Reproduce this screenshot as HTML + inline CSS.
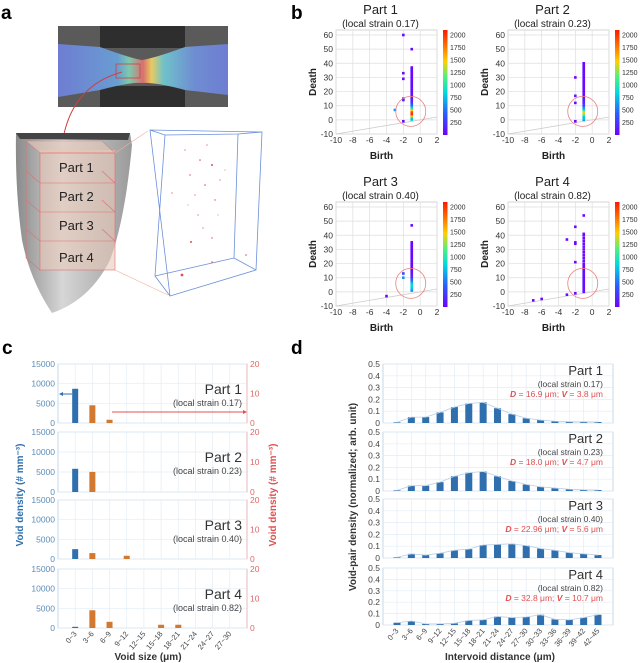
<!DOCTYPE html>
<html><head><meta charset="utf-8">
<style>
body{margin:0;background:#fff;}
svg{display:block;font-family:"Liberation Sans",Arial,sans-serif;}
</style></head>
<body>
<svg id="fig" width="640" height="663" viewBox="0 0 640 663" xmlns="http://www.w3.org/2000/svg">
<defs>
<linearGradient id="cmap" x1="0" y1="1" x2="0" y2="0">
<stop offset="0" stop-color="#7000ff"/><stop offset="0.2" stop-color="#2a5cff"/><stop offset="0.4" stop-color="#00d8e0"/><stop offset="0.55" stop-color="#50f080"/><stop offset="0.7" stop-color="#ffd000"/><stop offset="0.85" stop-color="#ff7000"/><stop offset="1" stop-color="#ff1800"/>
</linearGradient>
<linearGradient id="dic" x1="0" y1="0" x2="1" y2="0">
<stop offset="0" stop-color="#6f7fd8"/><stop offset="0.35" stop-color="#6aa0d8"/><stop offset="0.42" stop-color="#7ed0b0"/><stop offset="0.5" stop-color="#e07070"/><stop offset="0.55" stop-color="#f0d060"/><stop offset="0.62" stop-color="#70c8d0"/><stop offset="0.8" stop-color="#7090d8"/><stop offset="1" stop-color="#6f7fd8"/>
</linearGradient>
<linearGradient id="block" x1="0" y1="0" x2="1" y2="0">
<stop offset="0" stop-color="#8a8a8a"/><stop offset="0.4" stop-color="#d6d6d6"/><stop offset="1" stop-color="#9a9a9a"/>
</linearGradient>
</defs>

<!-- Panel a -->
<g>
<text x="1" y="19" font-size="19" font-weight="bold">a</text>
<g>
<rect x="58" y="26" width="170" height="81" fill="#5a5a5a"/>
<rect x="100" y="26" width="85" height="22" fill="#2e2e2e"/>
<rect x="100" y="86" width="85" height="21" fill="#2e2e2e"/>
<path d="M58 44 L100 47 Q130 58 142 60 Q155 58 185 47 L228 44 L228 95 L185 90 Q155 82 142 83 Q130 82 100 90 L58 97 Z" fill="url(#dic)" opacity="0.95"/>
<rect x="116" y="64" width="24" height="14" fill="none" stroke="#d04040" stroke-width="0.8"/>
<path d="M122 72 Q75 85 64 134" fill="none" stroke="#d04040" stroke-width="1"/>
</g>
<g>
<path d="M16 133 L130 133 L132 145 Q125 220 110 260 Q90 300 52 313 Q30 280 22 240 Q15 190 16 133 Z" fill="url(#block)"/>
<path d="M16 133 L130 133 L128 140 L20 139 Z" fill="#444"/>
<rect x="40" y="150" width="75" height="120" fill="#e8c8b8" opacity="0.6"/>
<path d="M26 141 L40 153 L115 153 L102 141 Z" fill="#e8c8b8" opacity="0.6" stroke="#e07070" stroke-width="0.6"/>
<g stroke="#e07070" stroke-width="0.6" fill="none">
<rect x="40" y="153" width="75" height="117"/>
<line x1="26" y1="141" x2="26" y2="258"/><line x1="26" y1="258" x2="40" y2="270"/>
<path d="M26 171 L40 183 L115 183 L102 171"/>
<path d="M26 200 L40 212 L115 212 L102 200"/>
<path d="M26 229 L40 241 L115 241 L102 229"/>
</g>
<text x="59" y="172" font-size="13" fill="#222">Part 1</text>
<text x="59" y="201" font-size="13" fill="#222">Part 2</text>
<text x="59" y="230" font-size="13" fill="#222">Part 3</text>
<text x="59" y="262" font-size="13" fill="#222">Part 4</text>
<line x1="115" y1="153" x2="148" y2="131" stroke="#f0b0a0" stroke-width="0.6"/>
<line x1="115" y1="270" x2="168" y2="295" stroke="#f0b0a0" stroke-width="0.6"/>
</g>
<g stroke="#6b8fd8" stroke-width="0.8" fill="none">
<path d="M150 130 L262 132 L256 270 L170 296 Z"/>
<path d="M150 130 L165 135 L238 134 L262 132"/>
<path d="M165 135 L155 276 L170 296"/>
<path d="M238 134 L234 258 L256 270"/>
<path d="M155 276 L234 258"/>
</g>
<g fill="#e05050">
<circle cx="200" cy="160" r="0.8"/><circle cx="212" cy="165" r="1"/><circle cx="190" cy="175" r="0.7"/><circle cx="205" cy="185" r="0.8"/><circle cx="195" cy="195" r="0.6"/><circle cx="215" cy="200" r="0.7"/><circle cx="185" cy="150" r="0.6"/><circle cx="207" cy="145" r="0.6"/><circle cx="220" cy="180" r="0.6"/><circle cx="191" cy="242" r="1"/><circle cx="212" cy="238" r="0.7"/><circle cx="182" cy="275" r="1.4"/><circle cx="212" cy="262" r="0.8"/><circle cx="246" cy="255" r="0.8"/><circle cx="172" cy="193" r="0.6"/><circle cx="198" cy="215" r="0.6"/><circle cx="225" cy="170" r="0.5"/><circle cx="203" cy="228" r="0.6"/><circle cx="188" cy="205" r="0.5"/><circle cx="218" cy="215" r="0.5"/>
</g>
</g>

<!-- Panel b -->
<g id="panelB">
<text x="291" y="19" font-size="19" font-weight="bold">b</text>
</g>
<!-- Panel c -->
<g id="panelC">
<text x="2" y="354" font-size="19" font-weight="bold">c</text>
</g>
<!-- Panel d -->
<g id="panelD">
<text x="291" y="354" font-size="19" font-weight="bold">d</text>
</g>
</svg>
<script>
// ---------- Panel b data ----------
var bParts = ['Part 1','Part 2','Part 3','Part 4'];
var bStrains = ['(local strain 0.17)','(local strain 0.23)','(local strain 0.40)','(local strain 0.82)'];
var bXTicks = [-10,-8,-6,-4,-2,0,2];
var bYTicks = [-10,0,10,20,30,40,50,60];
var bCbTicks = [250,500,750,1000,1250,1500,1750,2000];
// column at birth = -1: death values and counts
var p1ColDeath = [0,1,2,3,4,5,6,7,8,9,10,11,12,13,14,15,16,17,18,19,20,21,22,23,24,25,26,27,28,29,30,31,32,33,34,35,36,37,50];
var p1ColCount = [900,700,1000,1500,2000,2000,1900,1500,1100,800,600,400,300,200,150,120,100,100,80,80,60,60,60,50,50,50,50,40,40,40,40,40,40,40,40,40,40,40,30];
var p1ExBirth = [-2,-2,-2,-2,-2,-3,-2];
var p1ExDeath = [60,33,29,15,14,7,-1];
var p1ExCount = [30,30,30,200,150,600,30];
var p2ColDeath = [0,1,2,3,4,5,6,7,8,9,10,11,12,13,14,15,16,17,18,19,20,21,22,23,24,25,26,27,28,29,30,31,32,33,34,35,36,37,38,39,40];
var p2ColCount = [600,800,700,900,1200,1500,1400,1000,700,600,400,300,200,150,120,100,80,60,60,50,50,50,50,40,40,40,40,40,40,40,40,40,40,40,40,40,30,30,30,30,30];
var p2ExBirth = [-2,-2,-2,-2];
var p2ExDeath = [30,17,12,-1];
var p2ExCount = [30,100,30,30];
var p3ColDeath = [1,2,3,4,5,6,7,8,9,10,11,12,13,14,15,16,17,18,19,20,21,22,23,24,25,26,27,28,29,30,31,32,33,34,35,47];
var p3ColCount = [500,700,800,850,900,800,700,500,400,300,200,150,100,80,60,50,50,40,40,40,40,40,40,40,40,30,30,30,30,30,30,30,30,30,30,30];
var p3ExBirth = [-2,-2,-4];
var p3ExDeath = [13,10,-3];
var p3ExCount = [300,600,30];
var p4ColDeath = [0,1,2,3,4,5,6,7,8,9,10,11,12,13,14,15,16,17,18,19,20,22,24,26,28,30,32,34,36,38,40,41,54];
var p4ColCount = [60,60,60,60,60,60,60,60,60,50,50,50,50,50,50,40,40,40,40,40,40,40,40,40,40,40,40,40,40,40,40,40,30];
var p4ExBirth = [-2,-3,-2,-2,-2,-3,-2,-6,-7];
var p4ExDeath = [46,37,35,34,21,-2,-1,-5,-6];
var p4ExCount = [30,30,30,30,30,30,30,30,30];

// ---------- Panel c data ----------
var cCats = ['0~3','3~6','6~9','9~12','12~15','15~18','18~21','21~24','24~27','27~30'];
var cLeftTicks = [0,5000,10000,15000];
var cRightTicks = [0,10,20];
var cBlue1 = [8700,0,0,0,0,0,0,0,0,0];
var cBlue2 = [5800,0,0,0,0,0,0,0,0,0];
var cBlue3 = [2500,0,0,0,0,0,0,0,0,0];
var cBlue4 = [300,0,0,0,0,0,0,0,0,0];
var cOrange1 = [0,6.0,1.1,0,0,0,0,0,0,0];
var cOrange2 = [0,6.7,0,0,0,0,0,0,0,0];
var cOrange3 = [0,2.0,0,1.1,0,0,0,0,0,0];
var cOrange4 = [0,6.0,2.1,0,0,1.1,1.1,0,0,0];

// ---------- Panel d data ----------
var dCats = ['0~3','3~6','6~9','9~12','12~15','15~18','18~21','21~24','24~27','27~30','30~33','33~36','36~39','39~42','42~45'];
var dTicks = [0,0.1,0.2,0.3,0.4,0.5];
var dVals1 = [0.005,0.05,0.05,0.09,0.135,0.165,0.175,0.125,0.075,0.04,0.025,0.015,0.01,0.01,0.008];
var dVals2 = [0.005,0.045,0.045,0.075,0.125,0.155,0.165,0.125,0.085,0.055,0.035,0.025,0.015,0.01,0.008];
var dVals3 = [0.005,0.035,0.025,0.04,0.065,0.075,0.11,0.115,0.12,0.105,0.08,0.065,0.045,0.035,0.025];
var dVals4 = [0.02,0.035,0.01,0.01,0.015,0.04,0.045,0.075,0.065,0.07,0.09,0.05,0.045,0.065,0.09];
var dStats = ['16.9 μm; ','18.0 μm; ','22.96 μm; ','32.8 μm; '];
var dStatsV = ['3.8 μm','4.7 μm','5.6 μm','10.7 μm'];

var NS = 'http://www.w3.org/2000/svg';
function mk(parent, tag, attrs, name, txt) {
  var el = document.createElementNS(NS, tag);
  for (var k in attrs) el.setAttribute(k, attrs[k]);
  
  
  if (txt !== undefined) el.textContent = txt;
  parent.appendChild(el);
  return el;
}
function cmapColor(v) {
  var stops = [[0,[112,0,255]],[0.2,[42,92,255]],[0.4,[0,216,224]],[0.55,[80,240,128]],[0.7,[255,208,0]],[0.85,[255,112,0]],[1,[255,24,0]]];
  var t = Math.max(0, Math.min(1, v / 2100));
  for (var i = 1; i < stops.length; i++) {
    if (t <= stops[i][0]) {
      var a = stops[i-1], b = stops[i], f = (t - a[0]) / (b[0] - a[0]);
      return 'rgb(' + [0,1,2].map(function(j){return Math.round(a[1][j] + f*(b[1][j]-a[1][j]));}).join(',') + ')';
    }
  }
  return 'rgb(255,24,0)';
}

// ---------- Panel b ----------
(function(){
  var gB = document.getElementById('panelB');
  var cols = [[p1ColDeath,p1ColCount,p1ExBirth,p1ExDeath,p1ExCount],[p2ColDeath,p2ColCount,p2ExBirth,p2ExDeath,p2ExCount],[p3ColDeath,p3ColCount,p3ExBirth,p3ExDeath,p3ExCount],[p4ColDeath,p4ColCount,p4ExBirth,p4ExDeath,p4ExCount]];
  for (var p = 0; p < 4; p++) {
    var dx = (p % 2) * 172, dy = Math.floor(p / 2) * 172;
    var L = 336 + dx, R = 437 + dx;
    var xs = function(v){ return L + (v + 10) / 12 * (R - L); };
    var ys = function(v){ return 134 + dy - (v + 10) / 70 * 99; };
    var g = mk(gB, 'g', {}, 'persistence-plot-part-' + (p+1));
    var cx = (L + R) / 2 - 6;
    mk(g, 'text', {x: cx, y: 14 + dy, 'font-size': 13, 'text-anchor': 'middle', fill: '#222'}, 'plot-title', bParts[p]);
    mk(g, 'text', {x: cx, y: 27 + dy, 'font-size': 10, 'text-anchor': 'middle', fill: '#222'}, 'plot-subtitle', bStrains[p]);
    var top = 30 + dy, bot = 134 + dy;
    mk(g, 'rect', {x: L, y: top, width: R - L, height: bot - top, fill: '#fff', stroke: '#ccc', 'stroke-width': 0.8}, 'plot-area');
    bXTicks.forEach(function(t){
      mk(g, 'line', {x1: xs(t), x2: xs(t), y1: top, y2: bot, stroke: '#ddd', 'stroke-width': 0.7}, 'x-gridline');
      mk(g, 'text', {x: xs(t), y: bot + 9, 'font-size': 8.5, 'text-anchor': 'middle', fill: '#333'}, 'x-tick-label', String(t));
    });
    bYTicks.forEach(function(t){
      mk(g, 'line', {x1: L, x2: R, y1: ys(t), y2: ys(t), stroke: '#ddd', 'stroke-width': 0.7}, 'y-gridline');
      mk(g, 'text', {x: L - 3, y: ys(t) + 3, 'font-size': 8.5, 'text-anchor': 'end', fill: '#333'}, 'y-tick-label', String(t));
    });
    mk(g, 'line', {x1: xs(-10), y1: ys(-10), x2: xs(2), y2: ys(2), stroke: '#ccc', 'stroke-width': 0.8}, 'diagonal-line');
    mk(g, 'text', {x: (L + R) / 2 - 5, y: bot + 25, 'font-size': 10, 'font-weight': 'bold', 'text-anchor': 'middle', fill: '#222'}, 'x-axis-title', 'Birth');
    var ty = (top + bot) / 2;
    mk(g, 'text', {x: L - 20, y: ty, 'font-size': 10, 'font-weight': 'bold', 'text-anchor': 'middle', fill: '#222', transform: 'rotate(-90 ' + (L - 20) + ' ' + ty + ')'}, 'y-axis-title', 'Death');
    var c = cols[p];
    for (var i = 0; i < c[0].length; i++) {
      mk(g, 'rect', {x: xs(-1) - 1.3, y: ys(c[0][i]) - 1.3, width: 2.6, height: 2.6, fill: cmapColor(c[1][i])}, 'point');
    }
    for (var j = 0; j < c[2].length; j++) {
      mk(g, 'rect', {x: xs(c[2][j]) - 1.3, y: ys(c[3][j]) - 1.3, width: 2.6, height: 2.6, fill: cmapColor(c[4][j])}, 'point');
    }
    mk(g, 'circle', {cx: xs(-1) - 1, cy: ys(6), r: 15, fill: 'none', stroke: '#e88080', 'stroke-width': 0.8}, 'highlight-circle');
    var cbx = 443 + dx;
    mk(g, 'rect', {x: cbx, y: top, width: 4.5, height: bot - top + 1, fill: 'url(#cmap)'}, 'colorbar');
    bCbTicks.forEach(function(t){
      var yy = bot + 1 - t / 2100 * (bot - top + 1);
      mk(g, 'text', {x: cbx + 7, y: yy + 2.5, 'font-size': 7, fill: '#333'}, 'colorbar-tick-label', String(t));
    });
  }
})();

// ---------- Panel c ----------
(function(){
  var gC = document.getElementById('panelC');
  var L = 58, R = 247;
  var tops = [364, 432, 500, 569], bots = [423, 492, 559, 628];
  var blues = [cBlue1, cBlue2, cBlue3, cBlue4], oranges = [cOrange1, cOrange2, cOrange3, cOrange4];
  var xc = function(i){ return L + (i + 1) * (R - L) / 11; };
  for (var p = 0; p < 4; p++) {
    var top = tops[p], bot = bots[p];
    var yl = function(v){ return bot - v / 15000 * (bot - top); };
    var yr = function(v){ return bot - v / 20 * (bot - top); };
    var g = mk(gC, 'g', {}, 'void-size-subplot-part-' + (p+1));
    mk(g, 'rect', {x: L, y: top, width: R - L, height: bot - top, fill: '#fff', stroke: '#b8cfe6', 'stroke-width': 0.8}, 'plot-area');
    for (var i = 0; i < 10; i++) mk(g, 'line', {x1: xc(i), x2: xc(i), y1: top, y2: bot, stroke: '#e3ecf5', 'stroke-width': 0.7}, 'x-gridline');
    cLeftTicks.forEach(function(t){
      mk(g, 'line', {x1: L, x2: R, y1: yl(t), y2: yl(t), stroke: '#e3ecf5', 'stroke-width': 0.7}, 'y-gridline');
      mk(g, 'text', {x: L - 3, y: yl(t) + 3, 'font-size': 8.5, 'text-anchor': 'end', fill: '#5b8db8'}, 'left-tick-label', String(t));
    });
    cRightTicks.forEach(function(t){
      mk(g, 'text', {x: R + 3, y: yr(t) + 3, 'font-size': 8.5, fill: '#e06666'}, 'right-tick-label', String(t));
    });
    mk(g, 'line', {x1: R, x2: R, y1: top, y2: bot, stroke: '#f0b0b0', 'stroke-width': 0.8}, 'right-axis-line');
    for (var k = 0; k < 10; k++) {
      if (blues[p][k] > 0) mk(g, 'rect', {x: xc(k) - 3, y: yl(blues[p][k]), width: 6, height: bot - yl(blues[p][k]), fill: '#2f6fae'}, 'bar-blue-' + cCats[k]);
      if (oranges[p][k] > 0) mk(g, 'rect', {x: xc(k) - 3, y: yr(oranges[p][k]), width: 6, height: bot - yr(oranges[p][k]), fill: '#d2782f'}, 'bar-orange-' + cCats[k]);
    }
    mk(g, 'text', {x: 242, y: top + 30, 'font-size': 14, 'text-anchor': 'end', fill: '#333'}, 'part-label', bParts[p]);
    mk(g, 'text', {x: 242, y: top + 42, 'font-size': 9, 'text-anchor': 'end', fill: '#444'}, 'strain-label', bStrains[p]);
  }
  mk(gC, 'line', {x1: 72, y1: 394, x2: 61, y2: 394, stroke: '#2f6fae', 'stroke-width': 1}, 'left-arrow');
  mk(gC, 'path', {d: 'M59 394 L63 392 L63 396 Z', fill: '#2f6fae'}, 'left-arrow-head');
  mk(gC, 'line', {x1: 112, y1: 412, x2: 244, y2: 412, stroke: '#e05050', 'stroke-width': 1}, 'right-arrow');
  mk(gC, 'path', {d: 'M247 412 L243 410 L243 414 Z', fill: '#e05050'}, 'right-arrow-head');
  for (var i = 0; i < 10; i++) {
    var x = xc(i) + 2, y = 634;
    mk(gC, 'text', {x: x, y: y, 'font-size': 7.5, 'text-anchor': 'end', fill: '#444', transform: 'rotate(-50 ' + x + ' ' + y + ')'}, 'x-tick-label', cCats[i]);
  }
  mk(gC, 'text', {x: 148, y: 660, 'font-size': 10, 'font-weight': 'bold', 'text-anchor': 'middle', fill: '#333'}, 'x-axis-title', 'Void size (μm)');
  mk(gC, 'text', {x: 23, y: 495, 'font-size': 10, 'font-weight': 'bold', 'text-anchor': 'middle', fill: '#2f6fae', transform: 'rotate(-90 23 495)'}, 'left-y-axis-title', 'Void density (# mm⁻³)');
  mk(gC, 'text', {x: 276, y: 495, 'font-size': 10, 'font-weight': 'bold', 'text-anchor': 'middle', fill: '#e05050', transform: 'rotate(-90 276 495)'}, 'right-y-axis-title', 'Void density (# mm⁻³)');
})();

// ---------- Panel d ----------
(function(){
  var gD = document.getElementById('panelD');
  var L = 383, R = 613;
  var tops = [364, 432, 499, 568], bots = [423, 491, 558, 625];
  var vals = [dVals1, dVals2, dVals3, dVals4];
  var xc = function(i){ return 397 + i * (598 - 397) / 14; };
  for (var p = 0; p < 4; p++) {
    var top = tops[p], bot = bots[p];
    var ys = function(v){ return bot - v / 0.5 * (bot - top); };
    var g = mk(gD, 'g', {}, 'intervoid-subplot-part-' + (p+1));
    mk(g, 'rect', {x: L, y: top, width: R - L, height: bot - top, fill: '#fff', stroke: '#b8cfe6', 'stroke-width': 0.8}, 'plot-area');
    for (var i = 0; i < 15; i++) mk(g, 'line', {x1: xc(i), x2: xc(i), y1: top, y2: bot, stroke: '#e3ecf5', 'stroke-width': 0.7}, 'x-gridline');
    dTicks.forEach(function(t){
      mk(g, 'line', {x1: L, x2: R, y1: ys(t), y2: ys(t), stroke: '#e3ecf5', 'stroke-width': 0.7}, 'y-gridline');
      mk(g, 'text', {x: L - 3, y: ys(t) + 3, 'font-size': 8.5, 'text-anchor': 'end', fill: '#444'}, 'y-tick-label', String(t));
    });
    var pts = [];
    for (var k = 0; k < 15; k++) {
      var v = vals[p][k];
      mk(g, 'rect', {x: xc(k) - 3.5, y: ys(v), width: 7, height: bot - ys(v), fill: '#2f6fae'}, 'bar-' + dCats[k]);
      pts.push(xc(k) + ',' + ys(v));
    }
    mk(g, 'polyline', {points: pts.join(' '), fill: 'none', stroke: '#b8cfe6', 'stroke-width': 0.8}, 'fit-curve');
    mk(g, 'text', {x: 603, y: top + 11, 'font-size': 13, 'text-anchor': 'end', fill: '#333'}, 'part-label', bParts[p]);
    mk(g, 'text', {x: 603, y: top + 23, 'font-size': 8.5, 'text-anchor': 'end', fill: '#444'}, 'strain-label', bStrains[p]);
    var st = mk(g, 'text', {x: 603, y: top + 33, 'font-size': 8.5, 'text-anchor': 'end', fill: '#e05050'}, 'stats-label');
    st.innerHTML = '<tspan font-weight="bold" font-style="italic">D</tspan> = ' + dStats[p] + '<tspan font-weight="bold" font-style="italic">V</tspan> = ' + dStatsV[p];
  }
  for (var i = 0; i < 15; i++) {
    var x = xc(i) + 2, y = 631;
    mk(gD, 'text', {x: x, y: y, 'font-size': 7.5, 'text-anchor': 'end', fill: '#444', transform: 'rotate(-50 ' + x + ' ' + y + ')'}, 'x-tick-label', dCats[i]);
  }
  mk(gD, 'text', {x: 500, y: 660, 'font-size': 10, 'font-weight': 'bold', 'text-anchor': 'middle', fill: '#333'}, 'x-axis-title', 'Intervoid distance (μm)');
  mk(gD, 'text', {x: 356, y: 497, 'font-size': 10, 'font-weight': 'bold', 'text-anchor': 'middle', fill: '#333', transform: 'rotate(-90 356 497)'}, 'y-axis-title', 'Void-pair density (normalized; arb. unit)');
})();
</script>
</body></html>
